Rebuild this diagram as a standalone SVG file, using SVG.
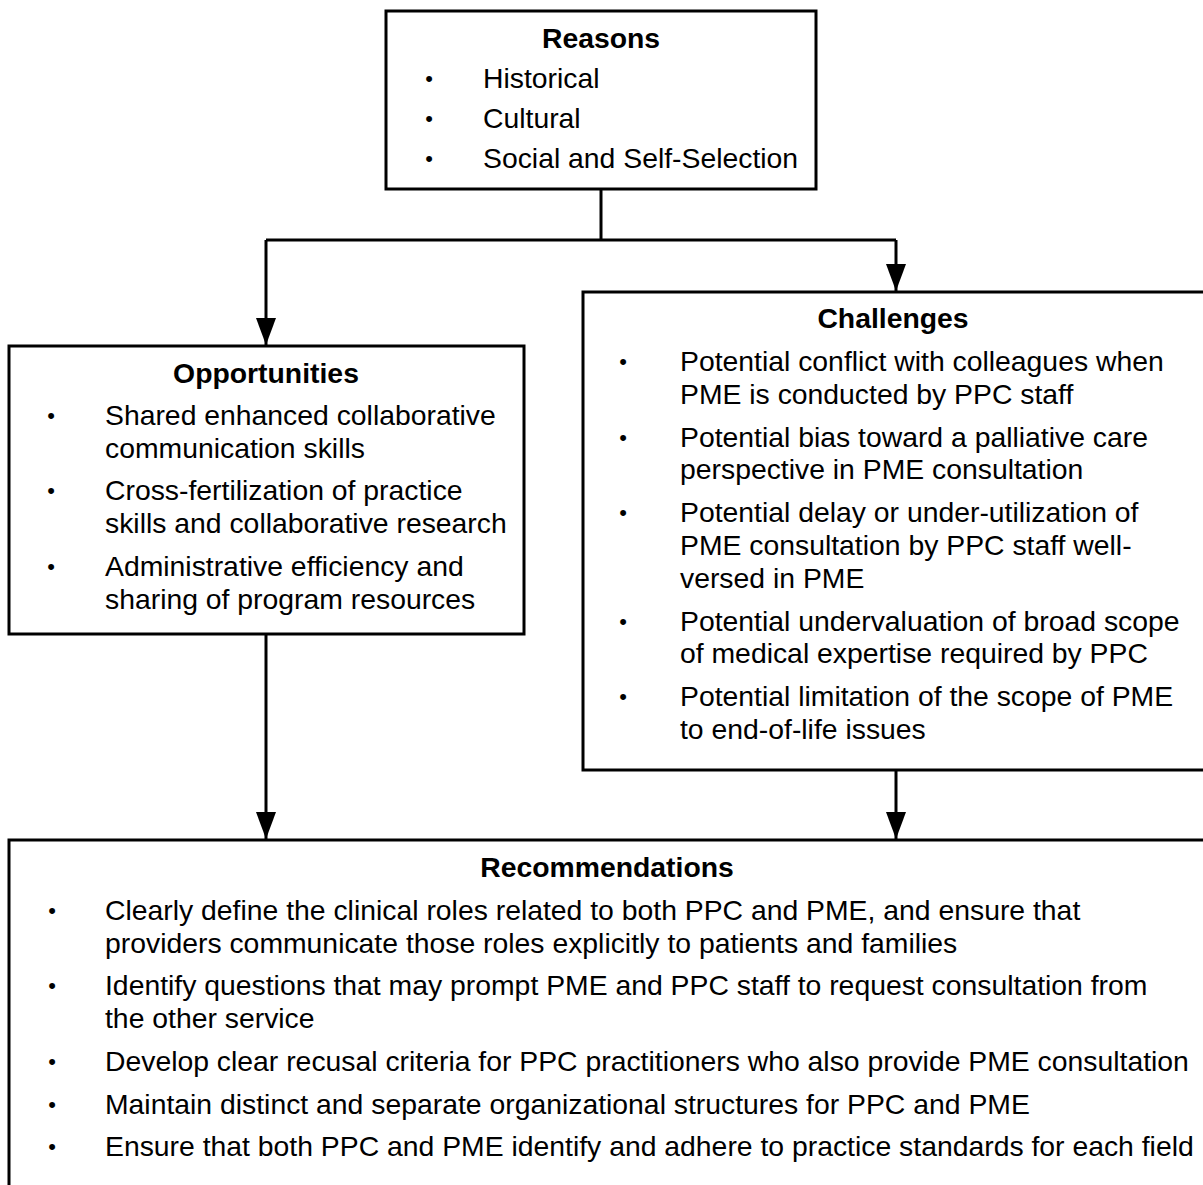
<svg xmlns="http://www.w3.org/2000/svg" width="1203" height="1185" viewBox="0 0 1203 1185">
<style>
.box{fill:#fff;stroke:#000;stroke-width:3}
.t{font-family:"Liberation Sans",Arial,Helvetica,sans-serif;font-size:28.35px;fill:#000}
.h{font-weight:bold;text-anchor:middle}
.b{text-anchor:middle;font-size:22px}
.c{fill:none;stroke:#000;stroke-width:3}
</style>
<defs>
<marker id="arr" markerUnits="userSpaceOnUse" markerWidth="27" markerHeight="20" refX="27" refY="10" orient="auto">
<path d="M0,0 L27,10 L0,20 z" fill="#000"/>
</marker>
</defs>
<rect width="1203" height="1185" fill="#fff"/>
<g id="connectors">
<line class="c" x1="601" y1="189" x2="601" y2="240"/>
<polyline class="c" points="266,240 896,240"/>
<line class="c" x1="266" y1="240" x2="266" y2="345" marker-end="url(#arr)"/>
<line class="c" x1="896" y1="240" x2="896" y2="291" marker-end="url(#arr)"/>
<line class="c" x1="266" y1="634" x2="266" y2="839" marker-end="url(#arr)"/>
<line class="c" x1="896" y1="770" x2="896" y2="839" marker-end="url(#arr)"/>
</g>
<g id="reasons">
<rect class="box" x="386" y="11" width="430" height="178"/>
<text class="t h" x="601" y="48">Reasons</text>
<text class="t b" x="429" y="86">•</text><text class="t" x="483" y="88">Historical</text>
<text class="t b" x="429" y="126">•</text><text class="t" x="483" y="128">Cultural</text>
<text class="t b" x="429" y="166">•</text><text class="t" x="483" y="168">Social and Self-Selection</text>
</g>
<g id="opportunities">
<rect class="box" x="9" y="346" width="515" height="288"/>
<text class="t h" x="266" y="383">Opportunities</text>
<text class="t b" x="51" y="423">•</text><text class="t" x="105" y="425">Shared enhanced collaborative</text>
<text class="t" x="105" y="458">communication skills</text>
<text class="t b" x="51" y="498">•</text><text class="t" x="105" y="500">Cross-fertilization of practice</text>
<text class="t" x="105" y="533">skills and collaborative research</text>
<text class="t b" x="51" y="574">•</text><text class="t" x="105" y="576">Administrative efficiency and</text>
<text class="t" x="105" y="609">sharing of program resources</text>
</g>
<g id="challenges">
<rect class="box" x="583" y="292" width="640" height="478"/>
<text class="t h" x="893" y="328">Challenges</text>
<text class="t b" x="623" y="369">•</text><text class="t" x="680" y="371">Potential conflict with colleagues when</text>
<text class="t" x="680" y="404">PME is conducted by PPC staff</text>
<text class="t b" x="623" y="445">•</text><text class="t" x="680" y="447">Potential bias toward a palliative care</text>
<text class="t" x="680" y="479">perspective in PME consultation</text>
<text class="t b" x="623" y="520">•</text><text class="t" x="680" y="522">Potential delay or under-utilization of</text>
<text class="t" x="680" y="555">PME consultation by PPC staff well-</text>
<text class="t" x="680" y="588">versed in PME</text>
<text class="t b" x="623" y="629">•</text><text class="t" x="680" y="631">Potential undervaluation of broad scope</text>
<text class="t" x="680" y="663">of medical expertise required by PPC</text>
<text class="t b" x="623" y="704">•</text><text class="t" x="680" y="706">Potential limitation of the scope of PME</text>
<text class="t" x="680" y="739">to end-of-life issues</text>
</g>
<g id="recommendations">
<rect class="box" x="9" y="840" width="1210" height="400"/>
<text class="t h" x="607" y="877">Recommendations</text>
<text class="t b" x="52" y="918">•</text><text class="t" x="105" y="920">Clearly define the clinical roles related to both PPC and PME, and ensure that</text>
<text class="t" x="105" y="953">providers communicate those roles explicitly to patients and families</text>
<text class="t b" x="52" y="993">•</text><text class="t" x="105" y="995">Identify questions that may prompt PME and PPC staff to request consultation from</text>
<text class="t" x="105" y="1028">the other service</text>
<text class="t b" x="52" y="1069">•</text><text class="t" x="105" y="1071">Develop clear recusal criteria for PPC practitioners who also provide PME consultation</text>
<text class="t b" x="52" y="1112">•</text><text class="t" x="105" y="1114">Maintain distinct and separate organizational structures for PPC and PME</text>
<text class="t b" x="52" y="1154">•</text><text class="t" x="105" y="1156">Ensure that both PPC and PME identify and adhere to practice standards for each field</text>
</g>
</svg>
